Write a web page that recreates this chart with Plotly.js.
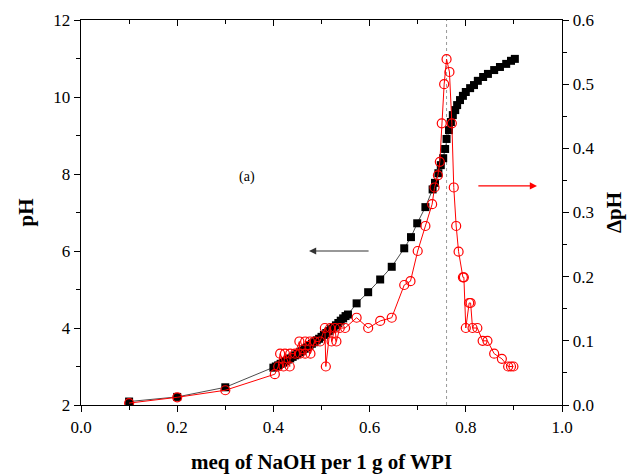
<!DOCTYPE html>
<html>
<head>
<meta charset="utf-8">
<script src="https://cdn.plot.ly/plotly-3.0.1.min.js"></script>
<style>html,body{margin:0;padding:0;background:#fff;}#chart{width:642px;height:476px;}</style>
</head>
<body>
<div id="chart"></div>
<script>
// pH (black squares, left axis)
const phX = [0.100, 0.200, 0.300, 0.400, 0.405, 0.410, 0.415, 0.420, 0.425, 0.430, 0.435, 0.440, 0.445, 0.450, 0.455, 0.460, 0.465, 0.470, 0.475, 0.480, 0.485, 0.490, 0.495, 0.500, 0.505, 0.510, 0.515, 0.520, 0.525, 0.530, 0.535, 0.540, 0.545, 0.550, 0.555,
  0.573, 0.597, 0.622, 0.646, 0.672, 0.686, 0.699, 0.716, 0.731, 0.736, 0.743, 0.748, 0.753, 0.757, 0.760, 0.765,
  0.769, 0.773, 0.778, 0.782, 0.788, 0.794, 0.800, 0.809, 0.817, 0.825, 0.836, 0.846, 0.859, 0.871, 0.884, 0.894, 0.902];
const phY = [2.09, 2.21, 2.46, 2.97, 3.00, 3.03, 3.07, 3.10, 3.14, 3.18, 3.21, 3.25, 3.29, 3.33, 3.37, 3.41, 3.46, 3.50, 3.54, 3.59, 3.63, 3.68, 3.72, 3.77, 3.82, 3.87, 3.92, 3.97, 4.02, 4.07, 4.13, 4.19, 4.25, 4.31, 4.35,
  4.64, 4.93, 5.26, 5.59, 6.07, 6.36, 6.72, 7.14, 7.60, 7.77, 8.02, 8.23, 8.41, 8.65, 8.91, 9.14,
  9.35, 9.53, 9.66, 9.79, 9.92, 10.03, 10.13, 10.23, 10.31, 10.42, 10.52, 10.60, 10.70, 10.78, 10.86, 10.94, 10.99];

// ΔpH (red open circles, right axis)
const dX = [0.100, 0.200, 0.300, 0.403, 0.410, 0.414, 0.421, 0.424, 0.434, 0.435, 0.445, 0.454, 0.455, 0.466, 0.466, 0.476, 0.477, 0.486, 0.497, 0.507, 0.509, 0.518, 0.521, 0.528, 0.531, 0.538, 0.549,
  0.573, 0.597, 0.622, 0.646, 0.672, 0.685, 0.700, 0.716, 0.730, 0.735, 0.742, 0.746, 0.750, 0.755, 0.760, 0.766, 0.771, 0.775, 0.780, 0.785, 0.794, 0.796, 0.800, 0.807, 0.810, 0.814, 0.824, 0.835, 0.845, 0.859, 0.875, 0.888, 0.894, 0.899];
const dY = [0.003, 0.012, 0.023, 0.048, 0.060, 0.080, 0.060, 0.080, 0.060, 0.080, 0.080, 0.099, 0.080, 0.080, 0.099, 0.099, 0.080, 0.099, 0.099, 0.120, 0.060, 0.120, 0.099, 0.120, 0.099, 0.120, 0.120,
  0.136, 0.120, 0.131, 0.136, 0.187, 0.193, 0.240, 0.279, 0.313, 0.339, 0.358, 0.379, 0.439, 0.500, 0.539, 0.519, 0.439, 0.339, 0.279, 0.239, 0.199, 0.199, 0.120, 0.159, 0.159, 0.120, 0.120, 0.100, 0.100, 0.080, 0.072, 0.060, 0.060, 0.060];

const xTickVals = [0.0, 0.2, 0.4, 0.6, 0.8, 1.0];
const xTickText = ['0.0', '0.2', '0.4', '0.6', '0.8', '1.0'];
const yTickVals = [2, 4, 6, 8, 10, 12];
const y2TickVals = [0.0, 0.1, 0.2, 0.3, 0.4, 0.5, 0.6];
const y2TickText = ['0.0', '0.1', '0.2', '0.3', '0.4', '0.5', '0.6'];
const endpointX = 0.76;

const serif = 'Liberation Serif, Times New Roman, serif';

const traces = [
  {x: phX, y: phY, type: 'scatter', mode: 'lines+markers', xaxis: 'x', yaxis: 'y',
   line: {color: '#000', width: 0.7},
   marker: {symbol: 'square', size: 8, color: '#000'}, showlegend: false},
  {x: dX, y: dY, type: 'scatter', mode: 'lines+markers', xaxis: 'x', yaxis: 'y2',
   line: {color: '#ff0000', width: 1},
   marker: {symbol: 'circle-open', size: 9, color: '#ff0000', line: {width: 1.2, color: '#ff0000'}}, showlegend: false},
  {x: [], y: [], type: 'scatter', xaxis: 'x2', yaxis: 'y', showlegend: false}
];

const layout = {
  width: 642, height: 476,
  margin: {l: 81, r: 80, t: 20, b: 71},
  paper_bgcolor: '#fff', plot_bgcolor: '#fff',
  font: {family: serif, size: 17, color: '#000'},
  showlegend: false,
  xaxis: {
    range: [0, 1], tickvals: xTickVals, ticktext: xTickText,
    ticks: 'outside', ticklen: 6, tickwidth: 1, tickcolor: '#000',
    minor: {dtick: 0.1, ticks: 'outside', ticklen: 4, tickcolor: '#000', tickwidth: 1},
    showline: true, linecolor: '#000', linewidth: 1.3, showgrid: false, zeroline: false,
    tickfont: {family: serif, size: 17},
    title: {text: 'meq of NaOH per 1 g of WPI', font: {family: serif, size: 21, weight: 'bold'}, standoff: 18},
    automargin: false
  },
  xaxis2: {
    range: [0, 1], overlaying: 'x', side: 'top', anchor: 'y',
    tickvals: xTickVals, showticklabels: false,
    ticks: 'inside', ticklen: 6, tickwidth: 1, tickcolor: '#000',
    minor: {dtick: 0.1, ticks: 'inside', ticklen: 4, tickcolor: '#000', tickwidth: 1},
    showline: true, linecolor: '#000', linewidth: 1.3, showgrid: false, zeroline: false
  },
  yaxis: {
    range: [2, 12], tickvals: yTickVals,
    ticks: 'outside', ticklen: 6, tickwidth: 1, tickcolor: '#000',
    minor: {dtick: 1, ticks: 'outside', ticklen: 4, tickcolor: '#000', tickwidth: 1},
    showline: true, linecolor: '#000', linewidth: 1.3, showgrid: false, zeroline: false,
    tickfont: {family: serif, size: 17},
    title: {text: 'pH', font: {family: serif, size: 21, weight: 'bold'}, standoff: 14},
    automargin: false
  },
  yaxis2: {
    range: [0, 0.6], overlaying: 'y', side: 'right', anchor: 'x',
    tickvals: y2TickVals, ticktext: y2TickText,
    ticks: 'outside', ticklen: 6, tickwidth: 1, tickcolor: '#000',
    minor: {dtick: 0.05, ticks: 'outside', ticklen: 4, tickcolor: '#000', tickwidth: 1},
    showline: true, linecolor: '#000', linewidth: 1.3, showgrid: false, zeroline: false,
    tickfont: {family: serif, size: 17},
    title: {text: 'ΔpH', font: {family: serif, size: 21, weight: 'bold'}, standoff: 12},
    automargin: false
  },
  shapes: [
    {type: 'line', xref: 'x', yref: 'paper', x0: endpointX, x1: endpointX, y0: 0, y1: 1,
     line: {color: '#999', width: 1, dash: 'dot'}, layer: 'below'}
  ],
  annotations: [
    {text: '(a)', xref: 'x', yref: 'y', x: 0.345, y: 7.92, showarrow: false,
     font: {family: serif, size: 14, color: '#000'}},
    {text: '', xref: 'x', yref: 'y', x: 0.474, y: 6.0, axref: 'x', ayref: 'y', ax: 0.601, ay: 6.0,
     showarrow: true, arrowhead: 2, arrowsize: 1.2, arrowwidth: 1.2, arrowcolor: '#333'},
    {text: '', xref: 'x', yref: 'y', x: 0.948, y: 7.69, axref: 'x', ayref: 'y', ax: 0.823, ay: 7.69,
     showarrow: true, arrowhead: 2, arrowsize: 1.2, arrowwidth: 1.2, arrowcolor: '#ff0000'}
  ]
};

Plotly.newPlot('chart', traces, layout, {displayModeBar: false, staticPlot: true});
</script>
</body>
</html>
